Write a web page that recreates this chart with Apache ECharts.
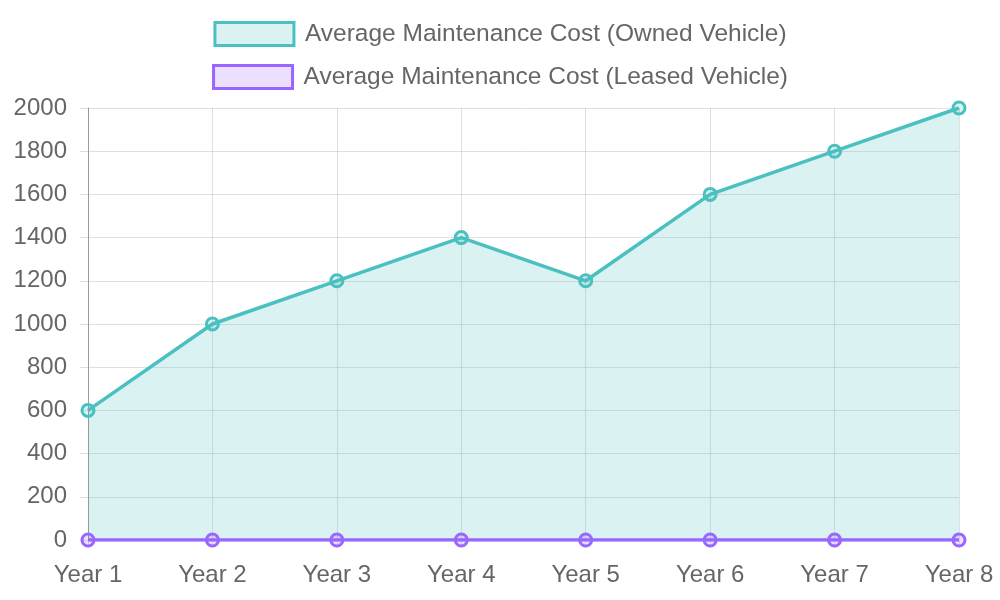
<!DOCTYPE html>
<html><head><meta charset="utf-8">
<script src="https://cdn.jsdelivr.net/npm/echarts@6/dist/echarts.min.js"></script>
<style>html,body{margin:0;padding:0;background:#fff}#c{width:1000px;height:600px}</style>
</head><body><div id="c"></div>
<script>
const categories = ['Year 1','Year 2','Year 3','Year 4','Year 5','Year 6','Year 7','Year 8'];
const ownedCost = [600, 1000, 1200, 1400, 1200, 1600, 1800, 2000];
const leasedCost = [0, 0, 0, 0, 0, 0, 0, 0];
const seriesNames = ['Average Maintenance Cost (Owned Vehicle)', 'Average Maintenance Cost (Leased Vehicle)'];

const font = 'Liberation Sans, Arial, sans-serif';
const chart = echarts.init(document.getElementById('c'));
const legendCommon = {
  left: 'center', itemWidth: 79, itemHeight: 23, itemGap: 10,
  textStyle: {fontSize: 24.5, color: '#666', fontFamily: font, padding: [0, 0, 0, 6]},
  icon: 'rect'
};
chart.setOption({
  animation: false,
  legend: [
    Object.assign({}, legendCommon, {top: 16, data: [seriesNames[0]],
      itemStyle: {color: 'rgba(75,192,192,0.2)', borderColor: '#4BC0C0', borderWidth: 3}}),
    Object.assign({}, legendCommon, {top: 59, data: [seriesNames[1]],
      itemStyle: {color: 'rgba(153,102,255,0.2)', borderColor: '#9966FF', borderWidth: 3}})
  ],
  grid: {left: 88, right: 41, top: 108, bottom: 60},
  xAxis: {
    type: 'category', data: categories, boundaryGap: false,
    axisLine: {show: false},
    axisTick: {show: true, alignWithLabel: true, length: 8, lineStyle: {color: 'rgba(0,0,0,0.12)'}},
    splitLine: {show: true, lineStyle: {color: 'rgba(0,0,0,0.12)'}},
    axisLabel: {fontSize: 24, color: '#666', fontFamily: font, margin: 23}
  },
  yAxis: {
    type: 'value', min: 0, max: 2000, interval: 200,
    axisLine: {show: true, lineStyle: {color: '#999'}},
    axisTick: {show: true, length: 8, lineStyle: {color: 'rgba(0,0,0,0.12)'}},
    splitLine: {show: true, lineStyle: {color: 'rgba(0,0,0,0.12)'}},
    axisLabel: {fontSize: 24, color: '#666', fontFamily: font, margin: 21, formatter: v => String(v)}
  },
  series: [
    {
      name: seriesNames[0], type: 'line', data: ownedCost,
      symbol: 'circle', symbolSize: 12,
      lineStyle: {color: '#4BC0C0', width: 3.5},
      itemStyle: {color: 'rgba(75,192,192,0.2)', borderColor: '#4BC0C0', borderWidth: 3},
      areaStyle: {color: 'rgba(75,192,192,0.2)', opacity: 1, origin: 'start'}
    },
    {
      name: seriesNames[1], type: 'line', data: leasedCost,
      symbol: 'circle', symbolSize: 12,
      lineStyle: {color: '#9966FF', width: 3.5},
      itemStyle: {color: 'rgba(153,102,255,0.2)', borderColor: '#9966FF', borderWidth: 3},
      areaStyle: {color: 'rgba(153,102,255,0.2)', opacity: 1, origin: 'start'}
    }
  ]
});
</script></body></html>
